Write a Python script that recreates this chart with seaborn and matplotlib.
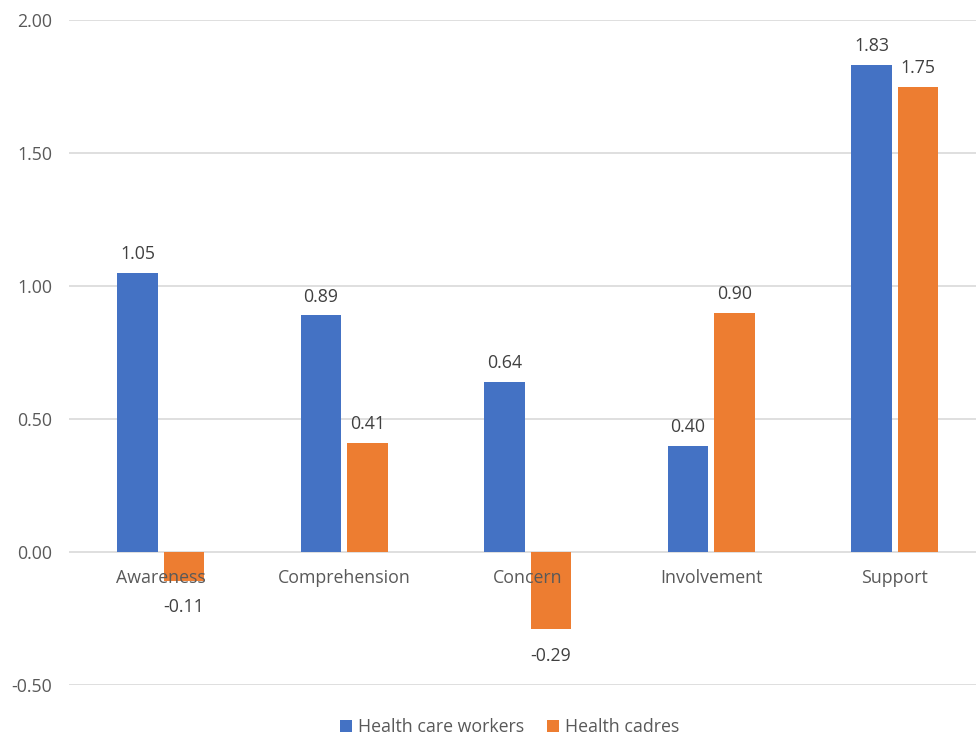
import matplotlib
matplotlib.use("Agg")
import matplotlib.pyplot as plt
import seaborn as sns
import pandas as pd

categories = ["Awareness", "Comprehension", "Concern", "Involvement", "Support"]
series_names = ["Health care workers", "Health cadres"]
workers = [1.05, 0.89, 0.64, 0.40, 1.83]
cadres = [-0.11, 0.41, -0.29, 0.90, 1.75]
yticks = [-0.5, 0.0, 0.5, 1.0, 1.5, 2.0]

df = pd.DataFrame({
    "category": categories * 2,
    "group": [series_names[0]] * len(categories) + [series_names[1]] * len(categories),
    "value": workers + cadres,
})

sns.set_theme(style="white")
plt.rcParams["font.family"] = ["Open Sans", "DejaVu Sans"]
TXT = "#595959"
FS = 12.8

fig = plt.figure(figsize=(9.76, 7.39), dpi=100)
ax = fig.add_axes([69 / 976, 1 - 685 / 739, 1 - 69 / 976, (685 - 20) / 739])

palette = {series_names[0]: "#4472C4", series_names[1]: "#ED7D31"}
sns.barplot(data=df, x="category", y="value", hue="group", order=categories,
            hue_order=series_names, palette=palette, width=0.507, gap=0.12,
            saturation=1, linewidth=0, ax=ax, legend=True, zorder=3)

ax.set_ylim(-0.5, 2.0)
ax.set_xlim(-0.5, 4.5 - 10.5 / 183.5)
ax.set_yticks(yticks)
ax.set_yticklabels([f"{t:.2f}" for t in yticks], color=TXT, fontsize=FS)
ax.tick_params(axis="y", length=0, pad=12)
ax.yaxis.grid(True, color="#D9D9D9", linewidth=1.2, zorder=0)
ax.set_axisbelow(True)
for s in ax.spines.values():
    s.set_visible(False)
ax.set_xlabel("")
ax.set_ylabel("")
ax.set_xticks(range(len(categories)))
ax.set_xticklabels([])
ax.tick_params(axis="x", length=0)

# category labels at the zero axis
for i, c in enumerate(categories):
    ax.annotate(c, (i, 0), xytext=(0, -12), textcoords="offset points",
                ha="center", va="top", color=TXT, fontsize=FS, zorder=5)

# value labels
for cont in ax.containers:
    for bar in cont:
        v = bar.get_height()
        x = bar.get_x() + bar.get_width() / 2
        if v >= 0:
            ax.annotate(f"{v:.2f}", (x, v), xytext=(0, 7), textcoords="offset points",
                        ha="center", va="bottom", color="#404040", fontsize=FS)
        else:
            ax.annotate(f"{v:.2f}", (x, v), xytext=(0, -12 if v > -0.2 else -13),
                        textcoords="offset points",
                        ha="center", va="top", color="#404040", fontsize=FS)

handles, labels = ax.get_legend_handles_labels()
ax.get_legend().remove()
leg = fig.legend(handles, labels, loc="center", bbox_to_anchor=(510 / 976, 1 - 727 / 739),
                 ncol=2, frameon=False, fontsize=FS, handlelength=0.65, handleheight=0.65,
                 handletextpad=0.35, columnspacing=1.3)
for t in leg.get_texts():
    t.set_color(TXT)

fig.savefig("out.png", dpi=100)
